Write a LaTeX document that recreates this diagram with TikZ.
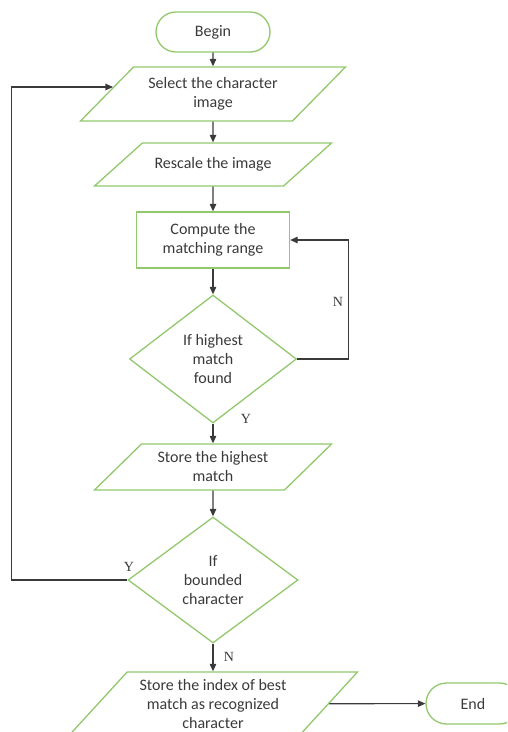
\documentclass[tikz,border=0pt]{standalone}
\usepackage{fontspec}
\setmainfont{Carlito}
\newfontfamily\ynfont{Liberation Serif}
\usetikzlibrary{shapes.geometric,shapes.misc,arrows.meta}
\definecolor{boxgreen}{RGB}{146,200,108}
\definecolor{inkgray}{RGB}{58,58,58}
\newcommand{\boxlines}[1]{\begin{tabular}{@{}c@{}}#1\end{tabular}}

\begin{document}
\begin{tikzpicture}[x=1pt, y=-1pt,
	every node/.style={font=\fontsize{16}{19}\selectfont, text=inkgray, align=center},
	box/.style={draw=boxgreen, line width=1.3pt, inner sep=1pt},
	terminal/.style={box, rounded rectangle, minimum width=116, minimum height=40},
	io/.style={box, trapezium, trapezium stretches body, inner ysep=0pt},
	process/.style={box, rectangle, minimum width=153, minimum height=56},
	decision/.style={box, diamond, aspect=1.3},
	flow/.style={draw=inkgray, line width=1.1pt, -{Triangle[length=7.5pt,width=6.5pt]}},
	yn/.style={font=\ynfont\fontsize{14}{14}\selectfont, text=inkgray, inner sep=0pt}]
\useasboundingbox (0,0) rectangle (507,732);
\clip (0,0) rectangle (507,732);
\node[terminal] (begin) at (213,32) {Begin};
\node[io, trapezium left angle=45.5, trapezium right angle=134.5, minimum width=265,
	text height=32pt, text depth=22pt] (select) at (213,94) {\boxlines{Select the character\\image}};
\node[io, trapezium left angle=41.9, trapezium right angle=138.1, minimum width=237,
	text height=26.5pt, text depth=16.5pt] (rescale) at (213,164.5) {\boxlines{Rescale the image}};
\node[process] (compute) at (213,240) {Compute the\\matching range};
\node[decision, minimum width=167, minimum height=128] (found) at (213,359) {If highest\\match\\found};
\node[io, trapezium left angle=44.4, trapezium right angle=135.6, minimum width=237,
	text height=29pt, text depth=17pt] (storehi) at (213,467) {\boxlines{Store the highest\\match}};
\node[decision, minimum width=170, minimum height=126] (bounded) at (213,580) {If\\bounded\\character};
\node[io, trapezium left angle=47.5, trapezium right angle=132.5, minimum width=289,
	text height=38pt, text depth=26pt] (storeidx) at (213,704) {\boxlines{Store the index of best\\match as recognized\\character}};
\node[terminal, minimum width=96, minimum height=41] (end) at (473,703.5) {End};
\draw[flow] (begin) -- (select);
\draw[flow] (select) -- (rescale);
\draw[flow] (rescale) -- (compute);
\draw[flow] (compute) -- (found);
\draw[flow] (found) -- (storehi);
\draw[flow] (storehi) -- (bounded);
\draw[flow] (bounded) -- (storeidx);
\draw[flow] (storeidx) -- (end);
\draw[flow] (found.east) -- ++(51,0) |- (compute.east);
\draw[flow] (bounded.west) -- ++(-116,0) |- (select.176.6);
\node[yn] (nfound) at (338,302) {N};
\node[yn] (yfound) at (246,419) {Y};
\node[yn] (ybounded) at (129,567) {Y};
\node[yn] (nbounded) at (229,657) {N};
\end{tikzpicture}
\end{document}
